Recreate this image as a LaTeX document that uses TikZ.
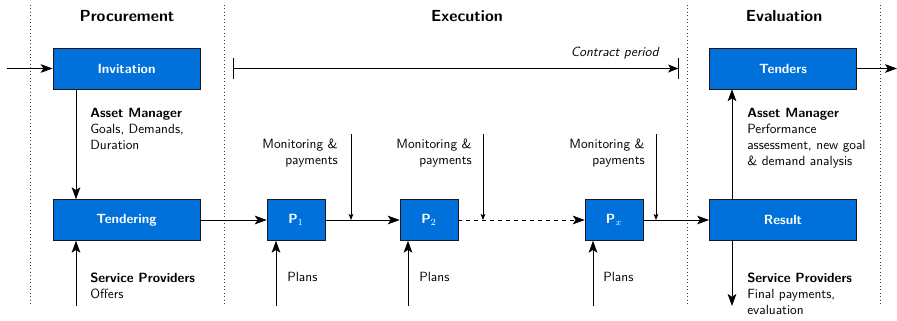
\documentclass[tikz,border=0pt]{standalone}
\usepackage{fontspec}
\setsansfont{lmsans10-regular.otf}[
  BoldFont=lmsans10-bold.otf,
  ItalicFont=lmsans10-oblique.otf,
  BoldItalicFont=lmsans10-boldoblique.otf]
\usetikzlibrary{arrows.meta}
\definecolor{phaseblue}{RGB}{0,113,219}
\begin{document}
\begin{tikzpicture}[x=0.75pt,y=-0.75pt,font=\sffamily,
  box/.style={draw=black!90,fill=phaseblue,text=white,font=\sffamily\bfseries,
    inner sep=0pt,minimum height=30.75pt},
  widebox/.style={box,minimum width=110.5pt},
  smallbox/.style={box,minimum width=43.5pt},
  arr/.style={semithick,-{Stealth[length=9pt,width=6.5pt,inset=2.2pt]}},
  smallarr/.style={semithick,-{Stealth[length=4.5pt,width=3.5pt,inset=1pt]}},
  divider/.style={black!75,dotted,semithick},
  heading/.style={font=\sffamily\large\bfseries},
  note/.style={align=left,anchor=north west,inner sep=0pt},
  monnote/.style={align=right,anchor=north east,inner sep=0pt}]
\useasboundingbox (0,0) rectangle (897,321);

% phase dividers
\foreach \x/\n in {30/d1,224/d2,687/d3,880/d4}{
  \coordinate (\n top) at (\x,5);
  \coordinate (\n bot) at (\x,306);
  \draw[divider] (\n top) -- (\n bot);
}

% phase headings
\node[heading] (hproc) at (127,16) {Procurement};
\node[heading] (hexec) at (467,16) {Execution};
\node[heading] (heval) at (784,16) {Evaluation};

% process boxes
\node[widebox] (inv)  at (126.5,68.5) {Invitation};
\node[widebox] (tend) at (126.5,220) {Tendering};
\node[smallbox] (p1)  at (296,220) {P$_1$};
\node[smallbox] (p2)  at (429,220) {P$_2$};
\node[smallbox] (px)  at (614,220) {P$_x$};
\node[widebox] (res)  at (783,220) {Result};
\node[widebox] (ten)  at (783,68.5) {Tenders};

% entry and exit
\coordinate (in) at (7,68.5);
\coordinate (out) at (897,68.5);
\draw[arr] (in) -- (inv.west);
\draw[arr] (ten.east) -- (out);

% procurement flow
\coordinate (lx) at (76,0);
\coordinate (sp) at (76,306);
\draw[arr] (inv.south -| lx) -- (tend.north -| lx);
\draw[arr] (sp) -- (tend.south -| sp);
\node[note] (am1) at (90,108) {\textbf{Asset Manager}\\Goals, Demands,\\Duration};
\node[note] (sp1) at (90,273) {\textbf{Service Providers}\\Offers};

% execution chain
\draw[arr] (tend.east) -- (p1.west);
\draw[arr] (p1.east) -- (p2.west);
\draw[arr,dashed] (p2.east) -- (px.west);
\draw[arr] (px.east) -- (res.west);

% contract period
\coordinate (cs) at (233,68.5);
\coordinate (ce) at (679,68.5);
\draw[semithick,{Bar[width=16pt]}-{Stealth[length=7.5pt,width=6pt,inset=1.8pt]Bar[width=16pt]}] (cs) -- (ce);
\node[anchor=south east,inner sep=0pt,font=\sffamily\itshape] (cp) at (659,59) {Contract period};

% monitoring inputs
\foreach \n/\mx/\tx in {1/351/338,2/483/472,x/656/645}{
  \coordinate (m\n) at (\mx,134);
  \node[monnote] (mt\n) at (\tx,139) {Monitoring \&\\payments};
}
\draw[smallarr] (m1) -- (m1 |- p1.east);
\draw[smallarr] (m2) -- (m2 |- p2.east);
\draw[smallarr] (mx) -- (mx |- px.east);

% plans inputs
\coordinate (pl1) at (276,306);
\coordinate (pl2) at (408,306);
\coordinate (plx) at (593,306);
\draw[arr] (pl1) -- (pl1 |- p1.south);
\draw[arr] (pl2) -- (pl2 |- p2.south);
\draw[arr] (plx) -- (plx |- px.south);
\node[anchor=west,inner sep=0pt] (pt1) at (287,277) {Plans};
\node[anchor=west,inner sep=0pt] (pt2) at (419,277) {Plans};
\node[anchor=west,inner sep=0pt] (ptx) at (603,277) {Plans};

% evaluation flow
\coordinate (rx) at (732,0);
\coordinate (rd) at (732,306);
\draw[arr] (res.north -| rx) -- (ten.south -| rx);
\draw[arr] (res.south -| rd) -- (rd);
\node[note] (am2) at (747,108) {\textbf{Asset Manager}\\Performance\\assessment, new goal\\\& demand analysis};
\node[note] (sp2) at (747,273) {\textbf{Service Providers}\\Final payments,\\evaluation};
\end{tikzpicture}
\end{document}
